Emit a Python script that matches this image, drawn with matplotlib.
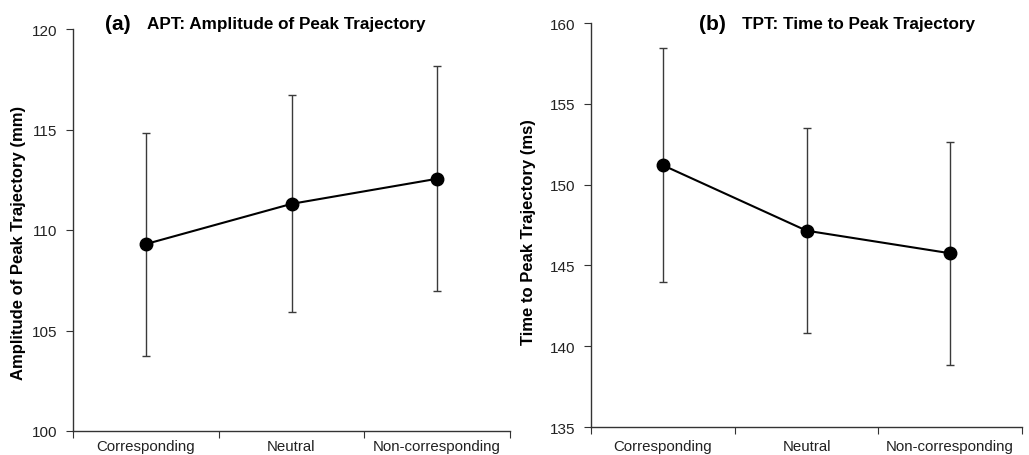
import matplotlib
matplotlib.use("Agg")
import matplotlib.pyplot as plt

plt.rcParams['font.family'] = ['Liberation Sans', 'DejaVu Sans']

# ==========================================
# Data
# ==========================================
conditions = ["Corresponding", "Neutral", "Non-corresponding"]

apt_means = [109.3, 111.3, 112.55]
apt_err = [5.55, 5.4, 5.6]

tpt_means = [151.2, 147.15, 145.75]
tpt_err = [7.25, 6.35, 6.9]

W, H = 1029, 456


def draw_panel(ax, means, errs, ylim, yticks, xpad):
    x = [1, 2, 3]
    ax.errorbar(x, means, yerr=errs, fmt='none', ecolor='#3a3a3a',
                elinewidth=1.0, capsize=3, capthick=1.0, zorder=2)
    ax.plot(x, means, color='black', linewidth=1.5, marker='o',
            markersize=9, markerfacecolor='black', zorder=3)
    ax.set_xlim(0.5, 3.5)
    ax.set_ylim(*ylim)
    ax.set_yticks(yticks)
    ax.set_xticks([0.5, 1.5, 2.5, 3.5])
    ax.set_xticklabels([])
    ax.set_xticks(x, minor=True)
    ax.set_xticklabels(conditions, minor=True)
    ax.tick_params(axis='x', which='minor', length=0, pad=xpad,
                   labelsize=10.8, labelcolor='#222222')
    ax.tick_params(axis='x', which='major', length=5, direction='out',
                   color='#333333')
    ax.tick_params(axis='y', length=5, direction='out', labelsize=11,
                   labelcolor='#222222', color='#333333', pad=6)
    for side in ('top', 'right'):
        ax.spines[side].set_visible(False)
    for side in ('left', 'bottom'):
        ax.spines[side].set_color('#333333')
        ax.spines[side].set_linewidth(1.0)


fig = plt.figure(figsize=(W / 100, H / 100), dpi=100)

ax1 = fig.add_axes([73 / W, (H - 432) / H, (510 - 73) / W, (432 - 30) / H])
draw_panel(ax1, apt_means, apt_err, (100, 120), [100, 105, 110, 115, 120], 6)

ax2 = fig.add_axes([591 / W, (H - 428) / H, (1022 - 591) / W, (428 - 24) / H])
draw_panel(ax2, tpt_means, tpt_err, (135, 160), [135, 140, 145, 150, 155, 160], 9)

# titles
fig.text(105 / W, (H - 24) / H, "(a)", fontsize=15, fontweight='bold', va='center')
fig.text(147 / W, (H - 25) / H, "APT: Amplitude of Peak Trajectory",
         fontsize=12.3, fontweight='bold', va='center')
fig.text(699 / W, (H - 24) / H, "(b)", fontsize=15, fontweight='bold', va='center')
fig.text(742 / W, (H - 25) / H, "TPT: Time to Peak Trajectory",
         fontsize=12.3, fontweight='bold', va='center')

# y labels
fig.text(19 / W, (H - 243) / H, "Amplitude of Peak Trajectory (mm)",
         fontsize=12, fontweight='bold', rotation=90, ha='center', va='center')
fig.text(528 / W, (H - 232) / H, "Time to Peak Trajectory (ms)",
         fontsize=12, fontweight='bold', rotation=90, ha='center', va='center')

fig.savefig("out.png", dpi=100)
